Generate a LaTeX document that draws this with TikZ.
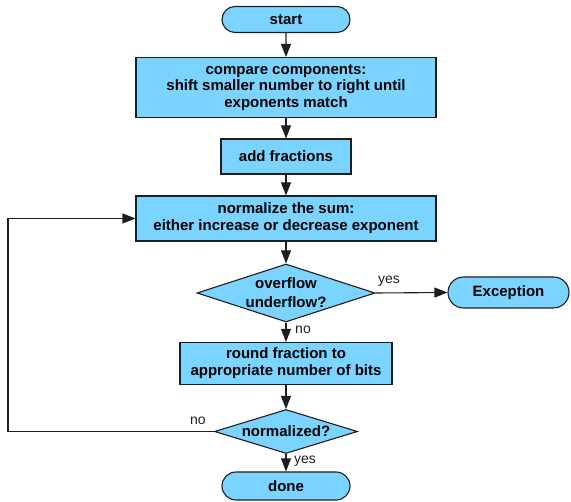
\documentclass[tikz,border=0pt]{standalone}
\usepackage{fontspec}
\setmainfont{Liberation Sans}
\usetikzlibrary{shapes.geometric,shapes.misc,arrows.meta}
\definecolor{boxblue}{RGB}{122,212,255}
\definecolor{ink}{RGB}{30,30,30}
\begin{document}
\begin{tikzpicture}[x=1pt,y=-1pt,
  base/.style={draw=ink, line width=1.1pt, fill=boxblue,
    font=\bfseries\fontsize{15}{16.8}\selectfont, align=center, inner sep=0pt},
  procbox/.style={base, rectangle},
  term/.style={base, rounded rectangle},
  dia/.style={base, diamond},
  diatext/.style={font=\bfseries\fontsize{15}{19}\selectfont, align=center, inner sep=0pt},
  lbl/.style={font=\fontsize{14}{16}\selectfont, inner sep=0pt, text=ink},
  arr/.style={draw=ink, line width=1.1pt, -{Triangle[length=13pt,width=10pt]}}
]
\useasboundingbox (0,0) rectangle (571,502);

\node[term, minimum width=128pt, minimum height=26pt] (start) at (286,19.5) {start};
\node[procbox, minimum width=300pt, minimum height=60pt] (cmp) at (286,87.5)
  {compare components:\\shift smaller number to right until\\exponents match};
\node[procbox, minimum width=130pt, minimum height=35pt] (add) at (286,156.5) {add fractions};
\node[procbox, minimum width=300pt, minimum height=45pt] (norm) at (286,218.5)
  {normalize the sum:\\either increase or decrease exponent};
\node[dia, minimum width=178pt, minimum height=58pt] (ovf) at (286,293) {};
\node[diatext] (ovft) at (ovf.center) {overflow\\underflow?};
\node[term, minimum width=121pt, minimum height=31pt] (exc) at (508.5,292.5) {Exception};
\node[procbox, minimum width=212pt, minimum height=42pt] (rnd) at (286,363.5)
  {round fraction to\\appropriate number of bits};
\node[dia, minimum width=143pt, minimum height=44pt] (nrm) at (286,431.5) {};
\node[diatext] (nrmt) at (nrm.center) {normalized?};
\node[term, minimum width=128pt, minimum height=28pt] (done) at (286,486) {done};

\coordinate (loopx) at (8,0);

\draw[arr] (start) -- (cmp);
\draw[arr] (cmp) -- (add);
\draw[arr] (add) -- (norm);
\draw[arr] (norm) -- (ovf);
\draw[arr] (ovf.east) -- (exc.west);
\draw[arr] (ovf.south) -- (rnd.north);
\draw[arr] (rnd) -- (nrm.north);
\draw[arr] (nrm.south) -- (done.north);
\draw[arr] (nrm.west) -- (nrm.west -| loopx) |- (norm.west);

\node[lbl] (lyes1) at (389,281) {yes};
\node[lbl] (lno1) at (303,330) {no};
\node[lbl] (lno2) at (198,421) {no};
\node[lbl] (lyes2) at (305,461) {yes};
\end{tikzpicture}
\end{document}
